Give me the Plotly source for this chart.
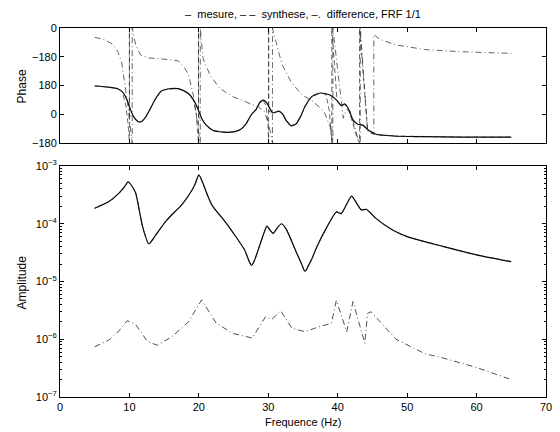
import plotly.graph_objects as go

# ---------------- data ----------------
# Phase (plotted on a -180..540 axis; upper band shows the difference curve)
f_mes_ph = [5, 7, 8.3, 9.0, 9.6, 10.1, 10.6, 11.2, 11.7, 12.3, 13.0, 13.8, 14.6, 15.5, 17.0, 17.8,
            18.6, 19.3, 19.9, 20.4, 21.0, 22.0, 23.5, 25.0, 26.0, 26.8, 27.6, 28.2, 28.8, 29.3, 29.8,
            30.3, 30.7, 31.1, 31.5, 32.0, 32.6, 33.3, 34.0, 34.7, 35.3, 36.3, 37.5, 38.8, 39.8, 40.5,
            41.0, 41.5, 42.2, 42.9, 43.6, 44.3, 45.5, 48.0, 52.0, 58.0, 65.0]
ph_mes = [177, 170, 160, 140, 95, 35, -15, -45, -47, -20, 35, 100, 145, 158, 160, 148,
          125, 85, 30, -25, -65, -100, -112, -110, -95, -60, 0, 27, 75, 88, 70,
          30, 8, 14, 20, 5, -40, -72, -60, -10, 50, 112, 133, 122, 90, 55,
          65, 38, -35, -62, -68, -95, -125, -136, -140, -143, -143]

f_syn_ph = [5, 7, 8.3, 9.0, 9.5, 9.8, 10.0, 10.0, 10.0, 10.6, 11.2, 11.7, 12.3, 13.0, 13.8, 14.6,
            15.5, 17.0, 17.8, 18.6, 19.2, 19.6, 19.95, 19.95, 19.95, 20.4, 21.0, 22.0, 23.5, 25.0,
            26.0, 26.8, 27.6, 28.2, 28.8, 29.3, 29.7, 29.95, 30.05, 30.05, 30.05, 30.7, 31.5, 32.0,
            32.6, 33.3, 34.0, 34.7, 35.3, 36.3, 37.5, 38.3, 38.8, 39.15, 39.15, 39.9, 40.5, 41.0,
            41.5, 42.2, 42.8, 43.15, 43.15, 44.3, 45.5, 48.0, 52.0, 58.0, 65.0]
ph_syn = [177, 170, 160, 140, 50, -60, -180, 540, -10, -15, -45, -47, -20, 35, 100, 145,
          158, 160, 148, 125, 90, 20, -180, 540, -20, -30, -65, -100, -112, -110,
          -95, -60, 0, 27, 75, 85, 50, -60, -180, 540, 20, 8, 20, 5,
          -40, -72, -60, -10, 50, 112, 133, 125, 20, -180, 540, 85, 55, 60,
          38, -60, -150, -180, 540, -95, -125, -136, -140, -143, -143]

f_dif_ph = [5, 6.5, 7.5, 8.3, 8.9, 9.3, 9.7, 10.2, 10.4, 10.4, 10.9, 11.6, 12.8, 15.0, 17.0, 17.8,
            18.5, 19.2, 19.7, 20.2, 20.2, 20.6, 21.6, 23.0, 24.9, 27.3, 28.5, 29.4, 30.1, 30.6,
            30.6, 31.3, 32.0, 33.3, 34.9, 36.3, 38.0, 38.9, 39.3, 39.3, 40.8, 41.3, 41.8, 42.9,
            43.25, 43.25, 44.3, 44.8, 45.2, 45.2, 46.0, 48.4, 52.6, 57.4, 65.0]
ph_dif = [482, 465, 440, 395, 320, 210, 80, -110, -180, 540, 434, 371, 352, 345, 335, 300,
          250, 120, -25, -180, 540, 350, 246, 162, 110, 69, 47, 20, -67, -180,
          540, 421, 310, 200, 120, 85, 20, -78, -180, 540, -25, 30, 20, -150,
          -180, 540, -105, -120, -125, 500, 470, 434, 405, 392, 381]

phase_tickvals = [-180, 0, 180, 360, 540]
phase_ticktext = ["\u2212180", "0", "180", "\u2212180", "0"]

# Amplitude
f_amp = [5, 6, 7, 8.5, 9.3, 9.8, 10.3, 10.9, 11.9, 12.8, 13.8, 15.2, 16.5, 17.5, 19.0, 19.5, 20.0,
         20.6, 21.3, 22.0, 23.5, 25.0, 26.6, 27.2, 27.6, 28.0, 28.7, 29.3, 29.8, 30.3, 30.7, 31.3,
         31.9, 32.6, 33.9, 34.8, 35.3, 35.8, 36.3, 37.0, 38.5, 39.8, 40.5, 41.3, 42.0, 42.7, 43.4,
         44.1, 44.7, 45.5, 47.9, 50.0, 55.0, 60.0, 65.0]
amp_mes = [1.85e-4, 2.1e-4, 2.4e-4, 3.4e-4, 4.4e-4, 5.3e-4, 4.6e-4, 3.4e-4, 8.9e-5, 4.5e-5, 6.4e-5,
           1.09e-4, 1.6e-4, 2.1e-4, 3.8e-4, 5.0e-4, 7.0e-4,
           5.0e-4, 3.0e-4, 2.0e-4, 1.2e-4, 6.8e-5, 3.5e-5, 2.3e-5, 1.9e-5, 2.3e-5, 4.0e-5, 6.5e-5,
           9.1e-5, 7.6e-5, 6.8e-5, 8.5e-5,
           1.0e-4, 8.0e-5, 3.5e-5, 2.0e-5, 1.5e-5, 1.9e-5, 2.5e-5, 4.0e-5, 9.0e-5, 1.6e-4, 1.5e-4,
           2.2e-4, 3.0e-4, 2.3e-4, 1.74e-4,
           1.78e-4, 1.55e-4, 1.24e-4, 7.8e-5, 6.0e-5, 4.1e-5, 2.9e-5, 2.2e-5]
amp_syn = [1.85e-4, 2.1e-4, 2.4e-4, 3.4e-4, 4.4e-4, 5.3e-4, 4.6e-4, 3.4e-4, 8.9e-5, 4.4e-5, 6.4e-5,
           1.09e-4, 1.6e-4, 2.1e-4, 3.8e-4, 5.0e-4, 7.0e-4,
           5.0e-4, 3.0e-4, 2.0e-4, 1.2e-4, 6.8e-5, 3.5e-5, 2.3e-5, 1.85e-5, 2.3e-5, 4.0e-5, 6.5e-5,
           9.1e-5, 7.6e-5, 6.8e-5, 8.5e-5,
           1.0e-4, 8.0e-5, 3.5e-5, 2.0e-5, 1.45e-5, 1.9e-5, 2.5e-5, 4.0e-5, 9.0e-5, 1.6e-4, 1.5e-4,
           2.2e-4, 3.0e-4, 2.3e-4, 1.74e-4,
           1.78e-4, 1.55e-4, 1.24e-4, 7.8e-5, 6.0e-5, 4.1e-5, 2.9e-5, 2.2e-5]

f_dif_amp = [5, 7.1, 8.5, 9.7, 10.9, 12.6, 14.0, 16.1, 18.5, 20.4, 22.5, 24.9, 27.7, 29.6, 30.5,
             31.8, 33.4, 35.3, 37.0, 39.1, 39.8, 41.3, 42.2, 43.9, 44.3, 44.8, 48.4, 52.6, 55.0,
             59.8, 65.0]
amp_dif = [7.4e-7, 9.8e-7, 1.4e-6, 2.1e-6, 1.8e-6, 9.1e-7, 7.9e-7, 1.1e-6, 2.0e-6, 4.8e-6, 1.9e-6,
           1.26e-6, 1.05e-6, 2.45e-6, 2.2e-6, 3.1e-6, 1.55e-6, 1.35e-6, 1.6e-6, 1.9e-6, 4.7e-6,
           1.35e-6, 4.5e-6, 8.5e-7, 2.8e-6, 3.0e-6, 1.0e-6, 5.6e-7, 4.8e-7, 3.3e-7, 2.0e-7]

amp_tickvals = [1e-7, 1e-6, 1e-5, 1e-4, 1e-3]
amp_ticktext = ["10<sup>\u22127</sup>", "10<sup>\u22126</sup>", "10<sup>\u22125</sup>",
                "10<sup>\u22124</sup>", "10<sup>\u22123</sup>"]
x_ticks = [0, 10, 20, 30, 40, 50, 60, 70]

# ---------------- figure ----------------
FONT = "Liberation Sans, Arial, Helvetica, sans-serif"
DASH = "5px,3px"
DASHDOT = "6px,3px,1px,3px"
THIN = "#222222"

fig = go.Figure()
fig.add_trace(go.Scatter(x=f_mes_ph, y=ph_mes, mode="lines", xaxis="x", yaxis="y",
                         line=dict(color="black", width=1.2, shape="spline", smoothing=0.6)))
fig.add_trace(go.Scatter(x=f_syn_ph, y=ph_syn, mode="lines", xaxis="x", yaxis="y",
                         line=dict(color=THIN, width=0.7, dash=DASH)))
fig.add_trace(go.Scatter(x=f_dif_ph, y=ph_dif, mode="lines", xaxis="x", yaxis="y",
                         line=dict(color=THIN, width=0.7, dash=DASHDOT)))

fig.add_trace(go.Scatter(x=f_amp, y=amp_mes, mode="lines", xaxis="x2", yaxis="y2",
                         line=dict(color="black", width=1.2, shape="spline", smoothing=0.6)))
fig.add_trace(go.Scatter(x=f_amp, y=amp_syn, mode="lines", xaxis="x2", yaxis="y2",
                         line=dict(color=THIN, width=0.8, dash=DASH, shape="spline", smoothing=0.6)))
fig.add_trace(go.Scatter(x=f_dif_amp, y=amp_dif, mode="lines", xaxis="x2", yaxis="y2",
                         line=dict(color=THIN, width=0.8, dash=DASHDOT)))

minor_vals = []
for e in range(-7, -3):
    for m in range(2, 10):
        minor_vals.append(m * 10 ** e)

axis_common = dict(showline=True, linecolor="black", linewidth=1, mirror="ticks",
                   ticks="inside", ticklen=4, tickcolor="black", showgrid=False, zeroline=False,
                   tickfont=dict(family=FONT, size=11, color="black"))

# the page body adds an 8px offset, so the figure is 552x424 with reduced left/top margins
H_PLOT = 369
fig.update_layout(
    width=552, height=424,
    margin=dict(l=52, r=8, t=20, b=35),
    paper_bgcolor="white", plot_bgcolor="white",
    showlegend=False,
    font=dict(family=FONT, size=11, color="black"),
    xaxis=dict(domain=[0, 1], range=[0, 70], tickvals=x_ticks, showticklabels=False,
               anchor="y", **axis_common),
    yaxis=dict(domain=[0.6883, 1], range=[-180, 540], tickvals=phase_tickvals,
               ticktext=phase_ticktext, anchor="x", **axis_common),
    xaxis2=dict(domain=[0, 1], range=[0, 70], tickvals=x_ticks, anchor="y2", **axis_common),
    yaxis2=dict(domain=[0, 0.626], type="log", range=[-7, -3], tickvals=amp_tickvals,
                ticktext=amp_ticktext, anchor="x2",
                minor=dict(tickmode="array", tickvals=minor_vals, ticks="inside", ticklen=2,
                           tickcolor="black", showgrid=False),
                **axis_common),
    annotations=[
        dict(text="\u2013  mesure, \u2013 \u2013  synthese, \u2013.  difference, FRF 1/1",
             xref="paper", yref="paper", x=0.5, y=1 + 14 / H_PLOT, xanchor="center",
             yanchor="middle", showarrow=False, font=dict(family=FONT, size=11)),
        dict(text="Frequence (Hz)", xref="paper", yref="paper", x=0.5, y=-25 / H_PLOT,
             xanchor="center", yanchor="middle", showarrow=False, font=dict(family=FONT, size=11)),
        dict(text="Phase", xref="paper", yref="paper", x=(22 - 60) / 492, y=(397 - 86) / H_PLOT,
             xanchor="center", yanchor="middle", textangle=-90, showarrow=False,
             font=dict(family=FONT, size=12)),
        dict(text="Amplitude", xref="paper", yref="paper", x=(22 - 60) / 492, y=(397 - 282) / H_PLOT,
             xanchor="center", yanchor="middle", textangle=-90, showarrow=False,
             font=dict(family=FONT, size=12)),
    ],
)

fig.write_html("out.html")
